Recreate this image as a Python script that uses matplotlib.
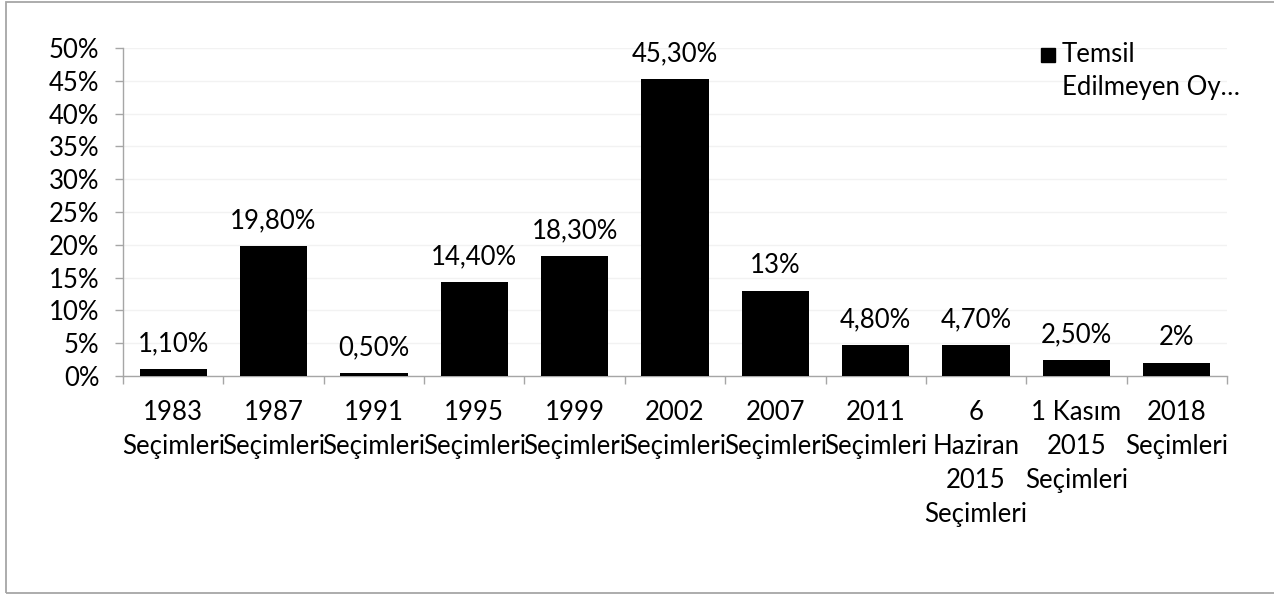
import matplotlib
matplotlib.use("Agg")
import matplotlib.pyplot as plt
from matplotlib.patches import Rectangle

categories = ["1983\nSeçimleri", "1987\nSeçimleri", "1991\nSeçimleri", "1995\nSeçimleri",
              "1999\nSeçimleri", "2002\nSeçimleri", "2007\nSeçimleri", "2011\nSeçimleri",
              "6\nHaziran\n2015\nSeçimleri", "1 Kasım\n2015\nSeçimleri", "2018\nSeçimleri"]
values = [1.1, 19.8, 0.5, 14.4, 18.3, 45.3, 13.0, 4.8, 4.7, 2.5, 2.0]
value_labels = ["1,10%", "19,80%", "0,50%", "14,40%", "18,30%", "45,30%", "13%",
                "4,80%", "4,70%", "2,50%", "2%"]
yticks = [0, 5, 10, 15, 20, 25, 30, 35, 40, 45, 50]
series_name = "Temsil\nEdilmeyen Oy…"

plt.rcParams['font.family'] = ['Lato', 'DejaVu Sans']
FS = 18.5

fig = plt.figure(figsize=(12.74, 5.94), dpi=100)
ax = fig.add_axes([123/1274, 1-376/594, (1227-123)/1274, (376-48)/594])

x = list(range(len(values)))
ax.bar(x, values, width=0.67, color='black', zorder=3)
ax.set_xlim(-0.5, len(values)-0.5)
ax.set_ylim(0, 50)
ax.set_yticks(yticks)
ax.set_yticklabels([f"{t}%" for t in yticks], fontsize=FS)
ax.yaxis.grid(True, color='#F2F2F2', linewidth=1, zorder=0)

ax.set_xticks(x)
ax.set_xticklabels(categories, fontsize=FS, va='top', linespacing=1.45)
ax.tick_params(axis='x', length=0, pad=17)
ax.set_xticks([i - 0.5 for i in range(len(values)+1)], minor=True)
ax.tick_params(axis='x', which='minor', length=6, color='#A6A6A6', width=1)
ax.tick_params(axis='y', length=6, color='#A6A6A6', width=1, pad=11)

for s in ['top', 'right']:
    ax.spines[s].set_visible(False)
for s in ['left', 'bottom']:
    ax.spines[s].set_color('#A6A6A6')
    ax.spines[s].set_linewidth(1)

for xi, v, lab in zip(x, values, value_labels):
    ax.annotate(lab, (xi, v), xytext=(0, 9), textcoords='offset points',
                ha='center', va='bottom', fontsize=FS)

# legend
fig.patches.append(Rectangle((1041/1274, 1-62/594), 14/1274, 14/594,
                             transform=fig.transFigure, color='black'))
fig.text(1062/1274, 1-55/594, series_name.split("\n")[0], fontsize=FS, va='center', ha='left')
fig.text(1062/1274, 1-88/594, series_name.split("\n")[1], fontsize=FS, va='center', ha='left')

# outer border
fig.patches.append(Rectangle((6/1274, 1/594), 1.0, 1-3/594, transform=fig.transFigure,
                             fill=False, edgecolor='#A6A6A6', linewidth=1.3))

fig.savefig("out.png", dpi=100)
